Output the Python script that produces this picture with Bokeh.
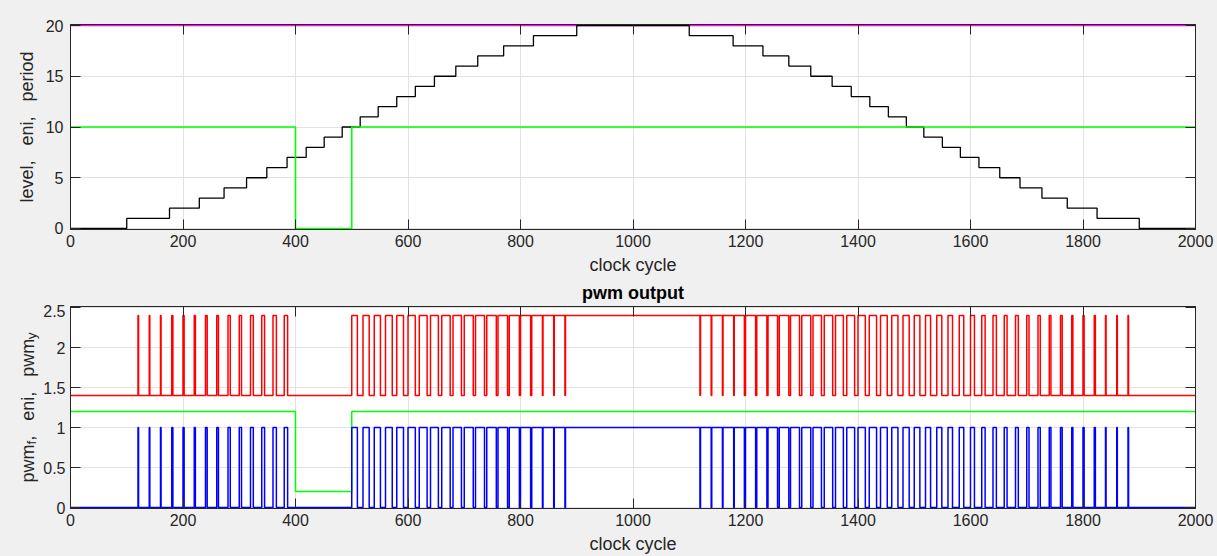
from bokeh.plotting import figure
from bokeh.layouts import column, row
from bokeh.models import Range1d, LinearAxis, CustomJSTickFormatter
from bokeh.core.properties import value
from bokeh.embed import file_html
from bokeh.resources import INLINE

# ---------------- data ----------------
clock_ticks = [0, 200, 400, 600, 800, 1000, 1200, 1400, 1600, 1800, 2000]
level_ticks = [0, 5, 10, 15, 20]
pwm_ticks = [0, 0.5, 1, 1.5, 2, 2.5]
clock_end = 2000

level_change = [0, 100, 176, 229, 273, 313, 349, 385, 419, 451, 483, 515, 547, 580,
                613, 647, 685, 724, 770, 823, 900, 1100, 1178, 1231, 1277, 1316, 1354,
                1388, 1421, 1454, 1486, 1517, 1550, 1582, 1615, 1652, 1688, 1727, 1772,
                1825, 1900]
level_value = [0, 1, 2, 3, 4, 5, 6, 7, 8, 9, 10, 11, 12, 13, 14, 15, 16, 17, 18, 19,
               20, 19, 18, 17, 16, 15, 14, 13, 12, 11, 10, 9, 8, 7, 6, 5, 4, 3, 2, 1, 0]

eni_change = [0, 400, 500]
eni_top_value = [10, 0, 10]
eni_bottom_value = [1.2, 0.2, 1.2]

period_change = [0]
period_value = [20]

# high time (clock cycles) of the pwm pulse in each 20-cycle period, period starts 0, 20, ... 1980
pwm_period = 20
pwm_high = [0, 0, 0, 0, 0, 0, 1, 1, 1, 2,
            2, 2, 3, 3, 4, 4, 5, 5, 6, 6,
            0, 0, 0, 0, 0, 10, 11, 11, 12, 12,
            13, 14, 14, 15, 15, 16, 16, 17, 17, 18,
            18, 19, 19, 19, 20, 20, 20, 20, 20, 20,
            20, 20, 20, 20, 20, 19, 19, 19, 19, 18,
            18, 18, 17, 17, 16, 16, 15, 15, 14, 14,
            13, 13, 12, 11, 11, 10, 9, 9, 8, 8,
            7, 6, 6, 5, 5, 4, 4, 3, 3, 2,
            2, 2, 1, 1, 1, 0, 0, 0, 0, 0]
pwm_y_offset = 1.4

top_ylabel = "level,\u00a0\u00a0\u00a0eni,\u00a0\u00a0\u00a0period"
bottom_ylabel_pieces = ["pwm", "f", ",\u00a0\u00a0\u00a0eni,\u00a0\u00a0\u00a0pwm", "y"]
bottom_ylabel_is_sub = [False, True, False, True]
xlabel = "clock cycle"
bottom_title = "pwm output"

# ---------------- style ----------------
FONT = "Liberation Sans"
AX = "#262626"
GRID = "#e2e2e2"
BG = "#f0f0f0"
TICK_SIZE = "16px"
LABEL_PX = 18
SUB_PX = 13.5
W = 1217
LEFT = 70
RIGHT = 22


def step_xy(change, values, end):
    return list(change) + [end], list(values) + [values[-1]]


def pwm_edges(high, period, end):
    xs, ys = [], []
    for k, w in enumerate(high):
        t0 = k * period
        xs.append(t0)
        ys.append(1 if w > 0 else 0)
        if 0 < w < period:
            xs.append(t0 + w)
            ys.append(0)
    xs.append(end)
    ys.append(ys[-1])
    return xs, ys


def style_axis(ax, ticks):
    ax.ticker = ticks
    ax.formatter = CustomJSTickFormatter(code="return tick.toString();")
    ax.major_tick_in = 10
    ax.major_tick_out = 0
    ax.minor_tick_line_color = None
    ax.axis_line_color = AX
    ax.major_tick_line_color = AX
    ax.major_label_text_font = FONT
    ax.major_label_text_font_size = TICK_SIZE
    ax.major_label_text_color = AX
    ax.axis_label_text_font = FONT
    ax.axis_label_text_font_size = f"{LABEL_PX}px"
    ax.axis_label_text_font_style = "normal"
    ax.axis_label_text_color = AX


def box_axis(ticks):
    return LinearAxis(ticker=ticks,
                      formatter=CustomJSTickFormatter(code="return '';"),
                      major_label_text_font_size="0px", major_label_standoff=0,
                      major_tick_in=10, major_tick_out=0,
                      minor_tick_line_color=None,
                      axis_line_color=AX, major_tick_line_color=AX)


def make_fig(w, h, yr, yticks, left, top_border, bottom_border):
    p = figure(width=w, height=h, x_range=Range1d(0, clock_end), y_range=yr,
               output_backend="svg", toolbar_location=None, title=None,
               min_border_left=left, min_border_right=RIGHT,
               min_border_top=top_border, min_border_bottom=bottom_border)
    p.background_fill_color = "white"
    p.border_fill_color = BG
    p.outline_line_color = AX
    p.outline_line_alpha = 1
    p.outline_line_width = 1
    style_axis(p.xaxis[0], clock_ticks)
    style_axis(p.yaxis[0], yticks)
    p.xaxis[0].axis_label = xlabel
    p.xgrid.ticker = clock_ticks
    p.ygrid.ticker = yticks
    p.grid.grid_line_color = GRID
    p.grid.grid_line_width = 1
    p.add_layout(box_axis(clock_ticks), "above")
    p.add_layout(box_axis(yticks), "right")
    return p


def text_strip(w, h, xr, yr, left=0, right=0, top=0, bottom=0):
    s = figure(width=w, height=h, x_range=xr, y_range=yr,
               x_axis_type=None, y_axis_type=None, output_backend="svg",
               toolbar_location=None, title=None, min_border=0, min_border_left=left,
               min_border_right=right, min_border_top=top, min_border_bottom=bottom)
    s.outline_line_color = None
    s.background_fill_color = BG
    s.border_fill_color = BG
    return s


# ---------------- top plot ----------------
P1_H = 283
p1 = make_fig(W, P1_H, Range1d(-0.1, 20.1), level_ticks, LEFT, 24, P1_H - 229)
p1.xaxis[0].major_label_standoff = 14
p1.xaxis[0].axis_label_standoff = 2
p1.yaxis[0].major_label_standoff = 7
p1.yaxis[0].axis_label_standoff = 6
p1.yaxis[0].axis_label = top_ylabel

px, py = step_xy(period_change, period_value, clock_end)
p1.step(px, py, mode="after", line_color="#ff00ff", line_width=1.6)
lx, ly = step_xy(level_change, level_value, clock_end)
p1.step(lx, ly, mode="after", line_color="black", line_width=1.3)
ex, ey = step_xy(eni_change, eni_top_value, clock_end)
p1.step(ex, ey, mode="after", line_color="#00ff00", line_width=1.6)

# ---------------- title strip ----------------
TITLE_H = 304 - P1_H
ts = text_strip(W, TITLE_H, Range1d(0, clock_end), Range1d(0, TITLE_H), left=LEFT, right=RIGHT)
ts.text(x=[clock_end / 2], y=[304 - 292.5], text=[bottom_title], text_font=value(FONT),
        text_font_size=f"{LABEL_PX}px", text_font_style="bold", text_color="#000000",
        text_align="center", text_baseline="middle")

# ---------------- bottom plot ----------------
LBL_W = 40
P2_H = 556 - 304
P2_TOP, P2_BOTTOM = 2, 47
FRAME_H = P2_H - P2_TOP - P2_BOTTOM
p2 = make_fig(W - LBL_W, P2_H, Range1d(-0.0125, 2.5125), pwm_ticks, LEFT - LBL_W, P2_TOP, P2_BOTTOM)
p2.xaxis[0].major_label_standoff = 12
p2.xaxis[0].axis_label_standoff = -3
p2.yaxis[0].major_label_standoff = 5

wx, wf = pwm_edges(pwm_high, pwm_period, clock_end)
wy = [v + pwm_y_offset for v in wf]
p2.step(wx, wy, mode="after", line_color="#ff0000", line_width=1.5)
bx, by = step_xy(eni_change, eni_bottom_value, clock_end)
p2.step(bx, by, mode="after", line_color="#00ff00", line_width=1.5)
p2.step(wx, wf, mode="after", line_color="#0000ff", line_width=1.5)

# ---------------- y label with subscripts (a narrow text strip left of the bottom plot) ----------------
# the strip has the same top/bottom borders as the bottom plot, so its frame lines up with it
lab = text_strip(LBL_W, P2_H, Range1d(0, LBL_W), Range1d(0, FRAME_H), top=P2_TOP, bottom=P2_BOTTOM)
AW = {'p': 556, 'w': 722, 'm': 833, 'f': 278, ',': 278, ' ': 278, '\u00a0': 278,
      'e': 556, 'n': 556, 'i': 222, 'y': 500}


def tw(s, size):
    return sum(AW[c] for c in s) / 1000.0 * size


total = sum(tw(t, SUB_PX if s else LABEL_PX) for t, s in zip(bottom_ylabel_pieces, bottom_ylabel_is_sub))
ypos = FRAME_H / 2 - total / 2   # centred on the axes, like the other label
base_x = 27
for txt, is_sub in zip(bottom_ylabel_pieces, bottom_ylabel_is_sub):
    sz = SUB_PX if is_sub else LABEL_PX
    lab.text(x=[base_x + (3.5 if is_sub else 0)], y=[ypos], text=[txt], angle=1.5707963,
             text_font=value(FONT), text_font_size=f"{sz}px", text_color=AX,
             text_align="left", text_baseline="alphabetic")
    ypos += tw(txt, sz)

layout = column(p1, ts, row(lab, p2, spacing=0), spacing=0)
layout.styles = {"background-color": BG}
open("out.html", "w").write(file_html(layout, INLINE))
